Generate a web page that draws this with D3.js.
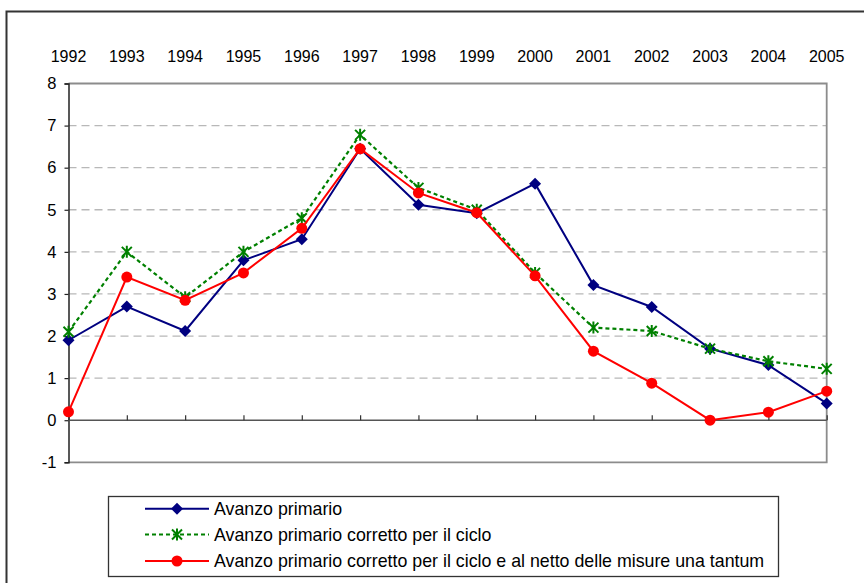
<!DOCTYPE html>
<html>
<head>
<meta charset="utf-8">
<script src="https://cdn.jsdelivr.net/npm/d3@7"></script>
<style>
  body { margin: 0; background: #fff; }
  svg text { font-family: "Liberation Sans", Arial, sans-serif; fill: #000; }
</style>
</head>
<body>
<div id="chart"></div>
<script>
const years = [1992, 1993, 1994, 1995, 1996, 1997, 1998, 1999, 2000, 2001, 2002, 2003, 2004, 2005];
const avanzo = [1.9, 2.7, 2.12, 3.8, 4.3, 6.45, 5.12, 4.92, 5.62, 3.21, 2.69, 1.7, 1.31, 0.4];
const avanzoCiclo = [2.1, 4.0, 2.92, 4.0, 4.8, 6.78, 5.52, 5.0, 3.5, 2.2, 2.12, 1.7, 1.4, 1.22];
const avanzoTantum = [0.2, 3.4, 2.85, 3.5, 4.56, 6.45, 5.4, 4.93, 3.43, 1.64, 0.88, 0.0, 0.19, 0.69];
const yTicks = [-1, 0, 1, 2, 3, 4, 5, 6, 7, 8];
const seriesNames = [
  "Avanzo primario",
  "Avanzo primario corretto per il ciclo",
  "Avanzo primario corretto per il ciclo e al netto delle misure una tantum"
];

const series = [
  { name: seriesNames[0], values: avanzo, color: "#000080", dash: null, marker: "diamond", width: 2 },
  { name: seriesNames[1], values: avanzoCiclo, color: "#008000", dash: "4,3", marker: "star", width: 2.2 },
  { name: seriesNames[2], values: avanzoTantum, color: "#ff0000", dash: null, marker: "circle", width: 2 }
];

const W = 864, H = 583;
const plot = { left: 68.5, right: 826.7, top: 83.5, bottom: 462.3 };

const svg = d3.select("#chart").append("svg")
  .attr("width", W)
  .attr("height", H);

// outer frame
svg.append("path")
  .attr("d", `M6.5,${H + 5} V11.5 H${W + 5}`)
  .attr("fill", "none")
  .attr("stroke", "#333")
  .attr("stroke-width", 2);

const x = d3.scalePoint().domain(years).range([plot.left, plot.right]);
const y = d3.scaleLinear().domain([-1, 8]).range([plot.bottom, plot.top]);

// gridlines
svg.append("g")
  .selectAll("line")
  .data(yTicks.filter(d => d > 0 && d < 8))
  .join("line")
  .attr("x1", plot.left).attr("x2", plot.right)
  .attr("y1", d => y(d)).attr("y2", d => y(d))
  .attr("stroke", "#b8b8b8")
  .attr("stroke-width", 1.3)
  .attr("stroke-dasharray", "8,5");

// plot border (top, right, bottom)
svg.append("path")
  .attr("d", `M${plot.left},${plot.top} H${plot.right} V${plot.bottom} H${plot.left}`)
  .attr("fill", "none")
  .attr("stroke", "#8c8c8c")
  .attr("stroke-width", 1.8);

// y axis
const yAxis = svg.append("g")
  .attr("transform", `translate(${plot.left},0)`)
  .call(d3.axisLeft(y).tickValues(yTicks).tickSize(4).tickPadding(8).tickFormat(d => String(d)));
yAxis.select(".domain").attr("stroke", "#222").attr("stroke-width", 1.5);
yAxis.selectAll(".tick line").attr("stroke", "#222").attr("stroke-width", 1.2);
yAxis.selectAll(".tick text")
  .style("font-family", "'Liberation Sans', Arial, sans-serif")
  .style("font-size", "16.5px");

// x axis at zero, ticks pointing up
const xAxis = svg.append("g")
  .attr("transform", `translate(0,${y(0)})`)
  .call(d3.axisTop(x).tickSize(5).tickFormat(""));
xAxis.select(".domain").attr("stroke", "#555").attr("stroke-width", 1.5)
  .attr("d", `M${plot.left},0H${plot.right}`);
xAxis.selectAll(".tick line").attr("stroke", "#333").attr("stroke-width", 1.2);

// year labels on top
svg.append("g")
  .selectAll("text")
  .data(years)
  .join("text")
  .attr("x", d => x(d))
  .attr("y", 62)
  .attr("text-anchor", "middle")
  .style("font-size", "16px")
  .text(d => d);

const line = d3.line()
  .x((d, i) => x(years[i]))
  .y(d => y(d));

function drawMarker(g, type, color) {
  if (type === "diamond") {
    g.append("path")
      .attr("d", "M0,-6 L6,0 L0,6 L-6,0 Z")
      .attr("fill", color);
  } else if (type === "circle") {
    g.append("circle").attr("r", 5.5).attr("fill", color);
  } else {
    g.append("path")
      .attr("d", "M-5,-5 L5,5 M5,-5 L-5,5 M0,-6 V6")
      .attr("stroke", color)
      .attr("stroke-width", 2)
      .attr("fill", "none");
  }
}

series.forEach(s => {
  svg.append("path")
    .datum(s.values)
    .attr("fill", "none")
    .attr("stroke", s.color)
    .attr("stroke-width", s.width)
    .attr("stroke-dasharray", s.dash)
    .attr("d", line);

  svg.append("g")
    .selectAll("g")
    .data(s.values)
    .join("g")
    .attr("transform", (d, i) => `translate(${x(years[i])},${y(d)})`)
    .each(function () { drawMarker(d3.select(this), s.marker, s.color); });
});

// legend
const legend = svg.append("g");
legend.append("rect")
  .attr("x", 108.5).attr("y", 496.5)
  .attr("width", 670).attr("height", 80)
  .attr("fill", "#fff")
  .attr("stroke", "#333")
  .attr("stroke-width", 1.3);

const legendY = [508.7, 534.5, 561];
series.forEach((s, i) => {
  const row = legend.append("g").attr("transform", `translate(0,${legendY[i]})`);
  row.append("line")
    .attr("x1", 145).attr("x2", 209)
    .attr("stroke", s.color)
    .attr("stroke-width", s.width)
    .attr("stroke-dasharray", s.dash);
  const m = row.append("g").attr("transform", "translate(177,0)");
  drawMarker(m, s.marker, s.color);
  row.append("text")
    .attr("x", 214)
    .attr("dy", "0.36em")
    .style("font-size", "17.8px")
    .text(s.name);
});
</script>
</body>
</html>
